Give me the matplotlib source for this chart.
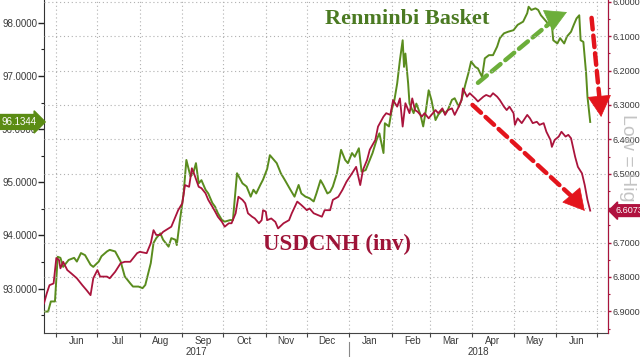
import numpy as np
import pandas as pd
import matplotlib
matplotlib.use("Agg")
import matplotlib.pyplot as plt
import matplotlib.dates as mdates
import matplotlib.transforms as mtransforms
from matplotlib.ticker import MultipleLocator, FormatStrFormatter

plt.rcParams["font.family"] = ["Liberation Sans", "DejaVu Sans"]

#----------------------------------------------------------------------
# Donnees
# Panier Renminbi (axe gauche)
basket_dates = [
    "2017-05-23", "2017-05-26", "2017-05-28", "2017-05-31", "2017-06-02", "2017-06-04", "2017-06-06",
    "2017-06-10", "2017-06-14", "2017-06-16", "2017-06-19", "2017-06-22", "2017-06-26", "2017-06-28",
    "2017-07-02", "2017-07-04", "2017-07-08", "2017-07-10", "2017-07-14", "2017-07-18", "2017-07-21",
    "2017-07-25", "2017-07-27", "2017-07-31", "2017-08-03", "2017-08-05", "2017-08-09", "2017-08-11",
    "2017-08-13", "2017-08-16", "2017-08-18", "2017-08-22", "2017-08-24", "2017-08-27", "2017-08-28",
    "2017-08-30", "2017-09-02", "2017-09-04", "2017-09-07", "2017-09-09", "2017-09-11", "2017-09-13",
    "2017-09-15", "2017-09-18", "2017-09-20", "2017-09-23", "2017-09-25", "2017-09-27", "2017-09-30",
    "2017-10-02", "2017-10-06", "2017-10-08", "2017-10-11", "2017-10-15", "2017-10-18", "2017-10-21",
    "2017-10-23", "2017-10-25", "2017-10-28", "2017-10-30", "2017-11-02", "2017-11-04", "2017-11-07",
    "2017-11-09", "2017-11-12", "2017-11-15", "2017-11-19", "2017-11-22", "2017-11-25", "2017-11-27",
    "2017-11-30", "2017-12-03", "2017-12-06", "2017-12-08", "2017-12-11", "2017-12-13", "2017-12-16",
    "2017-12-18", "2017-12-20", "2017-12-23", "2017-12-26", "2017-12-29", "2017-12-31", "2018-01-03",
    "2018-01-05", "2018-01-08", "2018-01-10", "2018-01-13", "2018-01-16", "2018-01-18", "2018-01-21",
    "2018-01-23", "2018-01-26", "2018-01-27", "2018-01-30", "2018-02-01", "2018-02-03", "2018-02-05",
    "2018-02-07", "2018-02-09", "2018-02-10", "2018-02-11", "2018-02-13", "2018-02-14", "2018-02-17",
    "2018-02-19", "2018-02-22", "2018-02-24", "2018-02-26", "2018-02-28", "2018-03-02", "2018-03-05",
    "2018-03-07", "2018-03-10", "2018-03-12", "2018-03-14", "2018-03-17", "2018-03-19", "2018-03-22",
    "2018-03-24", "2018-03-27", "2018-03-29", "2018-03-31", "2018-04-03", "2018-04-05", "2018-04-08",
    "2018-04-10", "2018-04-13", "2018-04-16", "2018-04-19", "2018-04-21", "2018-04-24", "2018-04-27",
    "2018-05-01", "2018-05-04", "2018-05-08", "2018-05-11", "2018-05-12", "2018-05-14", "2018-05-17",
    "2018-05-19", "2018-05-21", "2018-05-24", "2018-05-26", "2018-05-29", "2018-05-30", "2018-06-02",
    "2018-06-04", "2018-06-07", "2018-06-09", "2018-06-12", "2018-06-14", "2018-06-16", "2018-06-18",
    "2018-06-19", "2018-06-21", "2018-06-23", "2018-06-24", "2018-06-26",
]
basket_vals = [
    92.57, 92.57, 92.76, 92.76, 93.60, 93.58, 93.41,
    93.54, 93.58, 93.51, 93.67, 93.63, 93.45, 93.41,
    93.51, 93.61, 93.70, 93.73, 93.70, 93.51, 93.23,
    93.10, 93.04, 93.04, 93.01, 93.07, 93.48, 93.86,
    93.95, 94.04, 93.92, 93.79, 93.95, 93.92, 93.82,
    94.23, 94.79, 95.42, 95.11, 95.17, 95.36, 94.98,
    95.04, 94.86, 94.79, 94.61, 94.54, 94.42, 94.29,
    94.26, 94.29, 94.29, 95.17, 94.98, 94.92, 94.73,
    94.86, 94.79, 94.95, 95.05, 95.25, 95.51, 95.42,
    95.36, 95.17, 95.04, 94.86, 94.73, 94.95, 94.79,
    94.73, 94.70, 94.64, 94.79, 95.04, 94.95, 94.79,
    94.82, 94.92, 95.17, 95.61, 95.42, 95.36, 95.55,
    95.48, 95.64, 95.20, 95.23, 95.42, 95.55, 95.80,
    95.92, 95.55, 96.11, 96.05, 96.36, 96.55, 96.86,
    97.30, 97.67, 97.17, 97.42, 96.86, 96.48, 96.30,
    96.48, 96.27, 96.05, 96.36, 96.73, 96.55, 96.17,
    96.27, 96.36, 96.30, 96.36, 96.55, 96.58, 96.42,
    96.55, 96.86, 97.05, 97.27, 97.17, 97.14, 96.98,
    97.33, 97.39, 97.39, 97.55, 97.71, 97.80, 97.83,
    97.86, 97.96, 98.02, 98.18, 98.30, 98.24, 98.27,
    98.24, 98.14, 98.05, 97.99, 97.96, 97.67, 97.61,
    97.71, 97.61, 97.74, 97.83, 97.96, 98.08, 98.14,
    97.67, 97.64, 97.05, 96.61, 96.1344,
]

# USDCNH (axe droit inverse)
cnh_dates = [
    "2017-05-23", "2017-05-25", "2017-05-27", "2017-05-30", "2017-06-01", "2017-06-03", "2017-06-04",
    "2017-06-06", "2017-06-09", "2017-06-12", "2017-06-16", "2017-06-20", "2017-06-23", "2017-06-26",
    "2017-06-28", "2017-07-01", "2017-07-03", "2017-07-08", "2017-07-10", "2017-07-14", "2017-07-18",
    "2017-07-21", "2017-07-25", "2017-07-30", "2017-08-01", "2017-08-06", "2017-08-09", "2017-08-11",
    "2017-08-13", "2017-08-16", "2017-08-18", "2017-08-22", "2017-08-24", "2017-08-27", "2017-08-29",
    "2017-09-01", "2017-09-03", "2017-09-06", "2017-09-08", "2017-09-10", "2017-09-13", "2017-09-15",
    "2017-09-18", "2017-09-20", "2017-09-23", "2017-09-25", "2017-09-27", "2017-09-30", "2017-10-02",
    "2017-10-05", "2017-10-07", "2017-10-10", "2017-10-12", "2017-10-15", "2017-10-17", "2017-10-19",
    "2017-10-22", "2017-10-24", "2017-10-27", "2017-10-29", "2017-10-30", "2017-11-01", "2017-11-02",
    "2017-11-05", "2017-11-08", "2017-11-10", "2017-11-14", "2017-11-18", "2017-11-20", "2017-11-24",
    "2017-11-27", "2017-12-01", "2017-12-03", "2017-12-06", "2017-12-09", "2017-12-12", "2017-12-14",
    "2017-12-18", "2017-12-20", "2017-12-24", "2017-12-27", "2017-12-30", "2018-01-03", "2018-01-06",
    "2018-01-09", "2018-01-11", "2018-01-14", "2018-01-16", "2018-01-20", "2018-01-22", "2018-01-26",
    "2018-01-28", "2018-01-31", "2018-02-02", "2018-02-05", "2018-02-07", "2018-02-09", "2018-02-11",
    "2018-02-14", "2018-02-16", "2018-02-18", "2018-02-20", "2018-02-23", "2018-02-25", "2018-02-28",
    "2018-03-02", "2018-03-05", "2018-03-07", "2018-03-10", "2018-03-12", "2018-03-14", "2018-03-17",
    "2018-03-19", "2018-03-22", "2018-03-24", "2018-03-25", "2018-03-28", "2018-03-30", "2018-04-03",
    "2018-04-05", "2018-04-09", "2018-04-11", "2018-04-14", "2018-04-16", "2018-04-19", "2018-04-21",
    "2018-04-24", "2018-04-26", "2018-04-28", "2018-05-01", "2018-05-02", "2018-05-04", "2018-05-07",
    "2018-05-11", "2018-05-13", "2018-05-15", "2018-05-18", "2018-05-20", "2018-05-23", "2018-05-25",
    "2018-05-28", "2018-05-29", "2018-05-31", "2018-06-03", "2018-06-05", "2018-06-08", "2018-06-10",
    "2018-06-12", "2018-06-15", "2018-06-17", "2018-06-20", "2018-06-22", "2018-06-24", "2018-06-26",
]
cnh_vals = [
    6.877, 6.848, 6.824, 6.819, 6.745, 6.751, 6.775,
    6.756, 6.780, 6.790, 6.804, 6.824, 6.838, 6.853,
    6.804, 6.780, 6.799, 6.799, 6.804, 6.785, 6.760,
    6.756, 6.756, 6.731, 6.727, 6.731, 6.702, 6.664,
    6.678, 6.678, 6.669, 6.659, 6.654, 6.625, 6.606,
    6.586, 6.533, 6.538, 6.484, 6.504, 6.538, 6.542,
    6.557, 6.576, 6.596, 6.610, 6.625, 6.640, 6.654,
    6.644, 6.644, 6.615, 6.567, 6.576, 6.586, 6.615,
    6.625, 6.630, 6.644, 6.635, 6.606, 6.610, 6.635,
    6.630, 6.640, 6.659, 6.644, 6.635, 6.615, 6.581,
    6.591, 6.606, 6.601, 6.615, 6.620, 6.625, 6.606,
    6.606, 6.576, 6.567, 6.547, 6.523, 6.499, 6.480,
    6.533, 6.489, 6.460, 6.430, 6.402, 6.363, 6.334,
    6.324, 6.329, 6.286, 6.305, 6.281, 6.363, 6.295,
    6.324, 6.281, 6.315, 6.320, 6.334, 6.324, 6.339,
    6.329, 6.315, 6.324, 6.310, 6.329, 6.315, 6.310,
    6.329, 6.305, 6.286, 6.252, 6.276, 6.266, 6.281,
    6.290, 6.276, 6.271, 6.276, 6.266, 6.276, 6.286,
    6.305, 6.315, 6.305, 6.324, 6.358, 6.339, 6.353,
    6.329, 6.339, 6.353, 6.349, 6.358, 6.353, 6.378,
    6.402, 6.422, 6.402, 6.392, 6.378, 6.392, 6.387,
    6.397, 6.451, 6.480, 6.499, 6.533, 6.576, 6.6073,
]

left_ticks = [93, 94, 95, 96, 97, 98]
right_ticks = [6.0, 6.1, 6.2, 6.3, 6.4, 6.5, 6.6, 6.7, 6.8, 6.9]

basket_dates = pd.to_datetime(basket_dates)
cnh_dates = pd.to_datetime(cnh_dates)

green = "#5a8c1e"
crimson = "#aa143c"
grid_col = "#b0b0b0"
txt_col = "#3a3a3a"
arrow_red = "#e3141c"
arrow_green = "#6cae3a"

#----------------------------------------------------------------------
# Figure
fig = plt.figure(figsize=(6.4, 3.57), dpi=100)
ax = fig.add_axes([44 / 640, 1 - 333 / 357, 564 / 640, 333 / 357])
ax2 = ax.twinx()

ax.plot(basket_dates, basket_vals, color=green, lw=1.4, zorder=3)
ax2.plot(cnh_dates, cnh_vals, color=crimson, lw=1.3, zorder=3)

ax.set_xlim(pd.Timestamp("2017-05-23"), pd.Timestamp("2018-07-09"))
ax.set_ylim(92.167, 98.427)
ax2.set_ylim(6.963, 5.995)

# axe gauche
ax.yaxis.set_major_locator(plt.FixedLocator(left_ticks))
ax.yaxis.set_minor_locator(MultipleLocator(0.5))
ax.yaxis.set_major_formatter(FormatStrFormatter("%.4f"))
ax.tick_params(axis="y", which="major", length=4, width=1, pad=1, colors="#222222",
               labelsize=7, labelcolor=txt_col)
ax.tick_params(axis="y", which="minor", length=2, width=0.8, colors="#222222")

# axe droit
ax2.yaxis.set_major_locator(plt.FixedLocator(right_ticks))
ax2.yaxis.set_minor_locator(MultipleLocator(0.05))
ax2.yaxis.set_major_formatter(FormatStrFormatter("%.4f"))
ax2.tick_params(axis="y", which="major", length=2.5, width=1, pad=0.8, colors=crimson,
                labelsize=6.5, labelcolor=txt_col)
ax2.tick_params(axis="y", which="minor", length=1.5, width=0.8, colors=crimson)

# axe des dates
ax.xaxis.set_major_locator(mdates.MonthLocator())
ax.xaxis.set_major_formatter(plt.NullFormatter())
ax.xaxis.set_minor_locator(mdates.MonthLocator(bymonthday=16))
ax.xaxis.set_minor_formatter(mdates.DateFormatter("%b"))
ax.tick_params(axis="x", which="major", length=3, width=0.8, colors="#444444")
ax.tick_params(axis="x", which="minor", length=0, pad=2, labelsize=7, labelcolor=txt_col)

# grille pointillee
for yv in right_ticks:
    ax2.axhline(yv, color=grid_col, lw=0.8, ls=(0, (1, 2.5)), zorder=1)
for d in pd.date_range("2017-06-01", "2018-07-01", freq="MS"):
    ax.axvline(d, color=grid_col, lw=0.8, ls=(0, (1, 2.5)), zorder=1)

for a in (ax, ax2):
    a.spines["top"].set_visible(False)
ax.spines["left"].set_color("#333333")
ax.spines["bottom"].set_color("#444444")
ax2.spines["right"].set_color(crimson)
ax2.spines["left"].set_visible(False)
ax2.spines["bottom"].set_visible(False)

# annees sous l'axe
ax.text(pd.Timestamp("2017-09-11"), -0.057, "2017", transform=ax.get_xaxis_transform(),
        ha="center", va="center", fontsize=7, color=txt_col)
ax.text(pd.Timestamp("2018-04-05"), -0.057, "2018", transform=ax.get_xaxis_transform(),
        ha="center", va="center", fontsize=7, color=txt_col)
ax.plot([pd.Timestamp("2018-01-01")] * 2, [-0.027, -0.075], transform=ax.get_xaxis_transform(),
        color="#888888", lw=0.8, clip_on=False)

# titres
ax.text(pd.Timestamp("2017-12-14"), 97.98, "Renminbi Basket", family="Liberation Serif",
        weight="bold", fontsize=16, color="#4b7a22", ha="left", va="baseline")
ax2.text(pd.Timestamp("2017-10-30"), 6.705, "USDCNH (inv)", family="Liberation Serif",
         weight="bold", fontsize=16.5, color="#9e1438", ha="left", va="center")

# fleches en pointille : trait + pointe
def dashed_arrow(axe, start, end, head_from, col):
    axe.annotate("", xy=head_from, xytext=start,
                 arrowprops=dict(arrowstyle="-", color=col, lw=3.2,
                                 linestyle=(0, (2.6, 1.4)), shrinkA=0, shrinkB=0))
    axe.annotate("", xy=end, xytext=head_from,
                 arrowprops=dict(arrowstyle="-|>,head_length=0.9,head_width=0.5", color=col,
                                 lw=0.5, mutation_scale=16, shrinkA=0, shrinkB=0))

dashed_arrow(ax, (pd.Timestamp("2018-04-05"), 96.87), (pd.Timestamp("2018-06-09"), 98.20),
             (pd.Timestamp("2018-06-03"), 98.13), arrow_green)
dashed_arrow(ax2, (pd.Timestamp("2018-04-01"), 6.300), (pd.Timestamp("2018-06-22"), 6.608),
             (pd.Timestamp("2018-06-15"), 6.575), arrow_red)
dashed_arrow(ax2, (pd.Timestamp("2018-06-27"), 6.047), (pd.Timestamp("2018-07-04"), 6.335),
             (pd.Timestamp("2018-07-03"), 6.29), arrow_red)

# texte vertical "Low = High"
fig.text(619 / 640, 1 - 114 / 357, "Low = High", rotation=-90, fontsize=14, color="#c4c4c4",
         ha="left", va="top", zorder=4)

# etiquettes de la derniere valeur
tr_left = mtransforms.blended_transform_factory(fig.transFigure, ax.transData)
fig.text(2 / 640, basket_vals[-1], "%.4f" % basket_vals[-1], transform=tr_left,
         ha="left", va="center", fontsize=7, color="white", zorder=6,
         bbox=dict(boxstyle="rarrow,pad=0.25", fc="#5b8c14", ec="#5b8c14"))
tr_right = mtransforms.blended_transform_factory(fig.transFigure, ax2.transData)
fig.text(615 / 640, cnh_vals[-1], "%.4f" % cnh_vals[-1], transform=tr_right,
         ha="left", va="center", fontsize=6.5, color="white", zorder=6,
         bbox=dict(boxstyle="larrow,pad=0.15", fc="#b0123f", ec="#b0123f"))

fig.savefig("out.png", dpi=100)
